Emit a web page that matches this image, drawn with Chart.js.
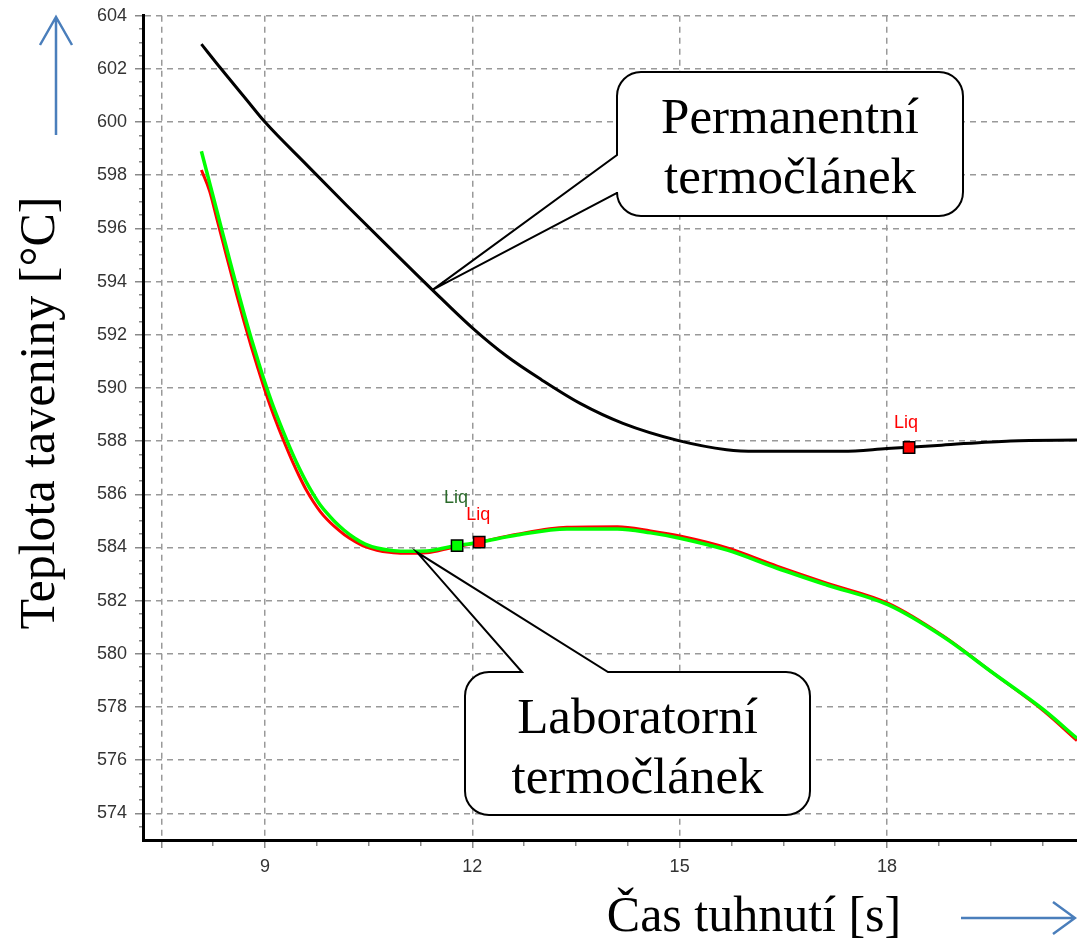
<!DOCTYPE html>
<html lang="cs">
<head>
<meta charset="UTF-8">
<title>Teplota taveniny - termočlánky</title>
<script src="https://cdn.jsdelivr.net/npm/chart.js@4.4.1/dist/chart.umd.min.js"></script>
<style>
  html, body { margin: 0; padding: 0; background: #fff; }
  canvas { display: block; }
</style>
</head>
<body>
<canvas id="chart" width="1077" height="943"></canvas>
<script>
// permanentní termočlánek: čas [s], teplota [°C]
var permTime = [8.08, 8.35, 8.73, 9.0, 9.6, 10.18, 10.81, 11.41, 12.0, 12.5, 13.0, 13.56, 14.18, 15.0, 15.68, 16.11, 17.36, 18.0, 18.79, 19.79, 20.75];
var permTemp = [602.93, 602.05, 600.85, 600.0, 598.4, 596.87, 595.25, 593.72, 592.26, 591.19, 590.31, 589.42, 588.67, 588.01, 587.68, 587.62, 587.62, 587.72, 587.85, 588.01, 588.04];

// laboratorní termočlánek (dvě měření)
var labTime = [8.08, 8.2, 8.3, 8.4, 8.5, 8.6, 8.7, 8.8, 8.9, 9.0, 9.1, 9.2, 9.3, 9.4, 9.5, 9.6, 9.7, 9.8, 9.9, 10.0, 10.15, 10.3, 10.45, 10.62, 10.8, 11.0, 11.34, 11.68, 12.1, 12.65, 13.37, 14.1, 14.58, 15.02, 15.69, 16.41, 17.13, 18.02, 18.81, 19.54, 20.27, 20.75];
var labTempGreen = [598.9, 597.7, 596.7, 595.7, 594.7, 593.72, 592.77, 591.87, 591.02, 590.2, 589.45, 588.77, 588.13, 587.52, 586.96, 586.45, 586.0, 585.6, 585.28, 585.0, 584.64, 584.35, 584.13, 583.98, 583.9, 583.86, 583.87, 584.03, 584.2, 584.47, 584.7, 584.7, 584.55, 584.34, 583.9, 583.22, 582.59, 581.84, 580.65, 579.27, 577.89, 576.82];
var labTempRed = [598.2, 597.4, 596.4, 595.4, 594.4, 593.42, 592.47, 591.57, 590.72, 589.9, 589.15, 588.47, 587.83, 587.22, 586.66, 586.15, 585.72, 585.35, 585.05, 584.8, 584.48, 584.23, 584.03, 583.9, 583.82, 583.78, 583.8, 583.98, 584.2, 584.5, 584.76, 584.78, 584.62, 584.42, 583.98, 583.3, 582.66, 581.9, 580.68, 579.27, 577.85, 576.74];

// body likvidu
var liqTime = [11.78, 12.1, 18.32];
var liqTemp = [584.07, 584.2, 587.76];
var liqFill = ['#00ff00', '#ff0000', '#ff0000'];
var liqText = ['#2a6a2a', '#ff0000', '#ff0000'];

// osy
var xTickLabels = [9, 12, 15, 18];
var xGridValues = [7.5, 9, 12, 15, 18];
var yTickLabels = [574, 576, 578, 580, 582, 584, 586, 588, 590, 592, 594, 596, 598, 600, 602, 604];

var xMin = 7.235, xMax = 20.75, yMin = 573, yMax = 604;

function pairs(xs, ys) {
  return xs.map(function (v, i) { return { x: v, y: ys[i] }; });
}

var xTicks = [];
for (var v = 7.5; v <= xMax; v += 0.75) xTicks.push(v);
var yTicks = [];
for (var w = 573.5; w <= yMax; w += 0.5) yTicks.push(w);

function calloutPath(ctx, bx, by, bw, bh, r, side, a, b, tx, ty) {
  var R = bx + bw, B = by + bh;
  ctx.beginPath();
  ctx.moveTo(bx + r, by);
  if (side === 'top') { ctx.lineTo(a, by); ctx.lineTo(tx, ty); ctx.lineTo(b, by); }
  ctx.arcTo(R, by, R, B, r);
  ctx.arcTo(R, B, bx, B, r);
  ctx.arcTo(bx, B, bx, by, r);
  if (side === 'left') { ctx.lineTo(bx, b); ctx.lineTo(tx, ty); ctx.lineTo(bx, a); }
  ctx.arcTo(bx, by, R, by, r);
  ctx.closePath();
}

function callout(ctx, box, tip, lines) {
  calloutPath(ctx, box.x, box.y, box.w, box.h, 24, box.side, box.a, box.b, tip.x, tip.y);
  ctx.fillStyle = '#fff';
  ctx.fill();
  ctx.lineWidth = 2;
  ctx.strokeStyle = '#000';
  ctx.stroke();
  ctx.fillStyle = '#000';
  ctx.font = '51px "Liberation Serif"';
  ctx.textAlign = 'center';
  ctx.textBaseline = 'alphabetic';
  var cx = box.x + box.w / 2;
  ctx.fillText(lines[0], cx, box.y + 61);
  ctx.fillText(lines[1], cx, box.y + 121);
}

function arrow(ctx, x1, y1, x2, y2, h1, h2) {
  ctx.beginPath();
  ctx.moveTo(x1, y1); ctx.lineTo(x2, y2);
  ctx.moveTo(h1[0], h1[1]); ctx.lineTo(x2, y2); ctx.lineTo(h2[0], h2[1]);
  ctx.stroke();
}

var decor = {
  id: 'decor',
  afterDraw: function (chart) {
    var ctx = chart.ctx, sx = chart.scales.x, sy = chart.scales.y;
    ctx.save();

    // popisky Liq
    var offs = [[-13, -43], [-13, -22], [-15, -20]];
    var pts = chart.getDatasetMeta(0).data;
    ctx.font = '18px "Liberation Sans"';
    ctx.textAlign = 'left';
    ctx.textBaseline = 'alphabetic';
    pts.forEach(function (p, i) {
      ctx.fillStyle = liqText[i];
      ctx.fillText('Liq', p.x + offs[i][0], p.y + offs[i][1]);
    });

    // bubliny s popisem
    callout(ctx, { x: 617, y: 72, w: 346, h: 144, side: 'left', a: 155, b: 193 },
      { x: sx.getPixelForValue(11.43), y: sy.getPixelForValue(593.7) },
      ['Permanentní', 'termočlánek']);
    callout(ctx, { x: 465, y: 672, w: 345, h: 143, side: 'top', a: 522, b: 608 },
      { x: sx.getPixelForValue(11.2), y: sy.getPixelForValue(583.82) },
      ['Laboratorní', 'termočlánek']);

    // názvy os
    ctx.fillStyle = '#000';
    ctx.font = '50px "Liberation Serif"';
    ctx.textAlign = 'center';
    ctx.fillText('Čas tuhnutí [s]', 754, 931);
    ctx.save();
    ctx.translate(54, 413);
    ctx.rotate(-Math.PI / 2);
    ctx.fillText('Teplota taveniny [°C]', 0, 0);
    ctx.restore();

    // šipky
    ctx.strokeStyle = '#4a7ebb';
    ctx.lineWidth = 2.5;
    arrow(ctx, 56, 135, 56, 17, [40, 45], [72, 45]);
    arrow(ctx, 961, 918, 1075, 918, [1053, 902], [1053, 934]);

    ctx.restore();
  }
};

var tickFont = { family: 'Liberation Sans', size: 18 };

new Chart(document.getElementById('chart'), {
  type: 'line',
  data: {
    datasets: [
      {
        label: 'Liq',
        data: pairs(liqTime, liqTemp),
        showLine: false,
        pointStyle: 'rect',
        pointRadius: 8,
        pointBackgroundColor: liqFill,
        pointBorderColor: '#000',
        pointBorderWidth: 1.5,
        order: 0
      },
      {
        label: 'Laboratorní 1',
        data: pairs(labTime, labTempGreen),
        borderColor: '#00ff00',
        borderWidth: 3.5,
        pointRadius: 0,
        cubicInterpolationMode: 'monotone',
        order: 1
      },
      {
        label: 'Laboratorní 2',
        data: pairs(labTime, labTempRed),
        borderColor: '#ff0000',
        borderWidth: 3,
        pointRadius: 0,
        cubicInterpolationMode: 'monotone',
        order: 2
      },
      {
        label: 'Permanentní',
        data: pairs(permTime, permTemp),
        borderColor: '#000',
        borderWidth: 3,
        pointRadius: 0,
        cubicInterpolationMode: 'monotone',
        order: 3
      }
    ]
  },
  options: {
    responsive: false,
    animation: false,
    devicePixelRatio: 1,
    layout: { autoPadding: false, padding: { left: 0, right: 0, top: 15.7, bottom: 0 } },
    plugins: { legend: { display: false }, tooltip: { enabled: false } },
    scales: {
      x: {
        type: 'linear',
        min: xMin,
        max: xMax,
        afterBuildTicks: function (s) { s.ticks = xTicks.map(function (t) { return { value: t }; }); },
        afterFit: function (s) { s.height = 103; s.paddingLeft = 0; s.paddingRight = 0; },
        ticks: {
          autoSkip: false,
          maxRotation: 0,
          padding: 8,
          color: '#333',
          font: tickFont,
          callback: function (val) { return xTickLabels.indexOf(val) >= 0 ? String(val) : ''; }
        },
        grid: {
          color: function (c) { return c.tick && xGridValues.indexOf(c.tick.value) >= 0 ? '#999' : 'rgba(0,0,0,0)'; },
          lineWidth: 1.5,
          tickLength: 8,
          tickColor: '#888',
          tickWidth: 1.5,
          tickBorderDash: function (c) { return c.tick && xGridValues.indexOf(c.tick.value) >= 0 ? [] : [4, 20]; }
        },
        border: { color: '#000', width: 3, dash: [6, 5] }
      },
      y: {
        type: 'linear',
        min: yMin,
        max: yMax,
        afterBuildTicks: function (s) { s.ticks = yTicks.map(function (t) { return { value: t }; }); },
        afterFit: function (s) { s.width = 143; s.paddingTop = 0; s.paddingBottom = 0; },
        ticks: {
          autoSkip: false,
          padding: 8,
          color: '#333',
          font: tickFont,
          callback: function (val) { return yTickLabels.indexOf(val) >= 0 ? String(val) : ''; }
        },
        grid: {
          color: function (c) { return c.tick && yTickLabels.indexOf(c.tick.value) >= 0 ? '#999' : 'rgba(0,0,0,0)'; },
          lineWidth: 1.5,
          tickLength: 8,
          tickColor: '#888',
          tickWidth: 1.5,
          tickBorderDash: function (c) { return c.tick && yTickLabels.indexOf(c.tick.value) >= 0 ? [] : [0, 4, 4, 20]; }
        },
        border: { color: '#000', width: 3, dash: [6, 5] }
      }
    }
  },
  plugins: [decor]
});
</script>
</body>
</html>
